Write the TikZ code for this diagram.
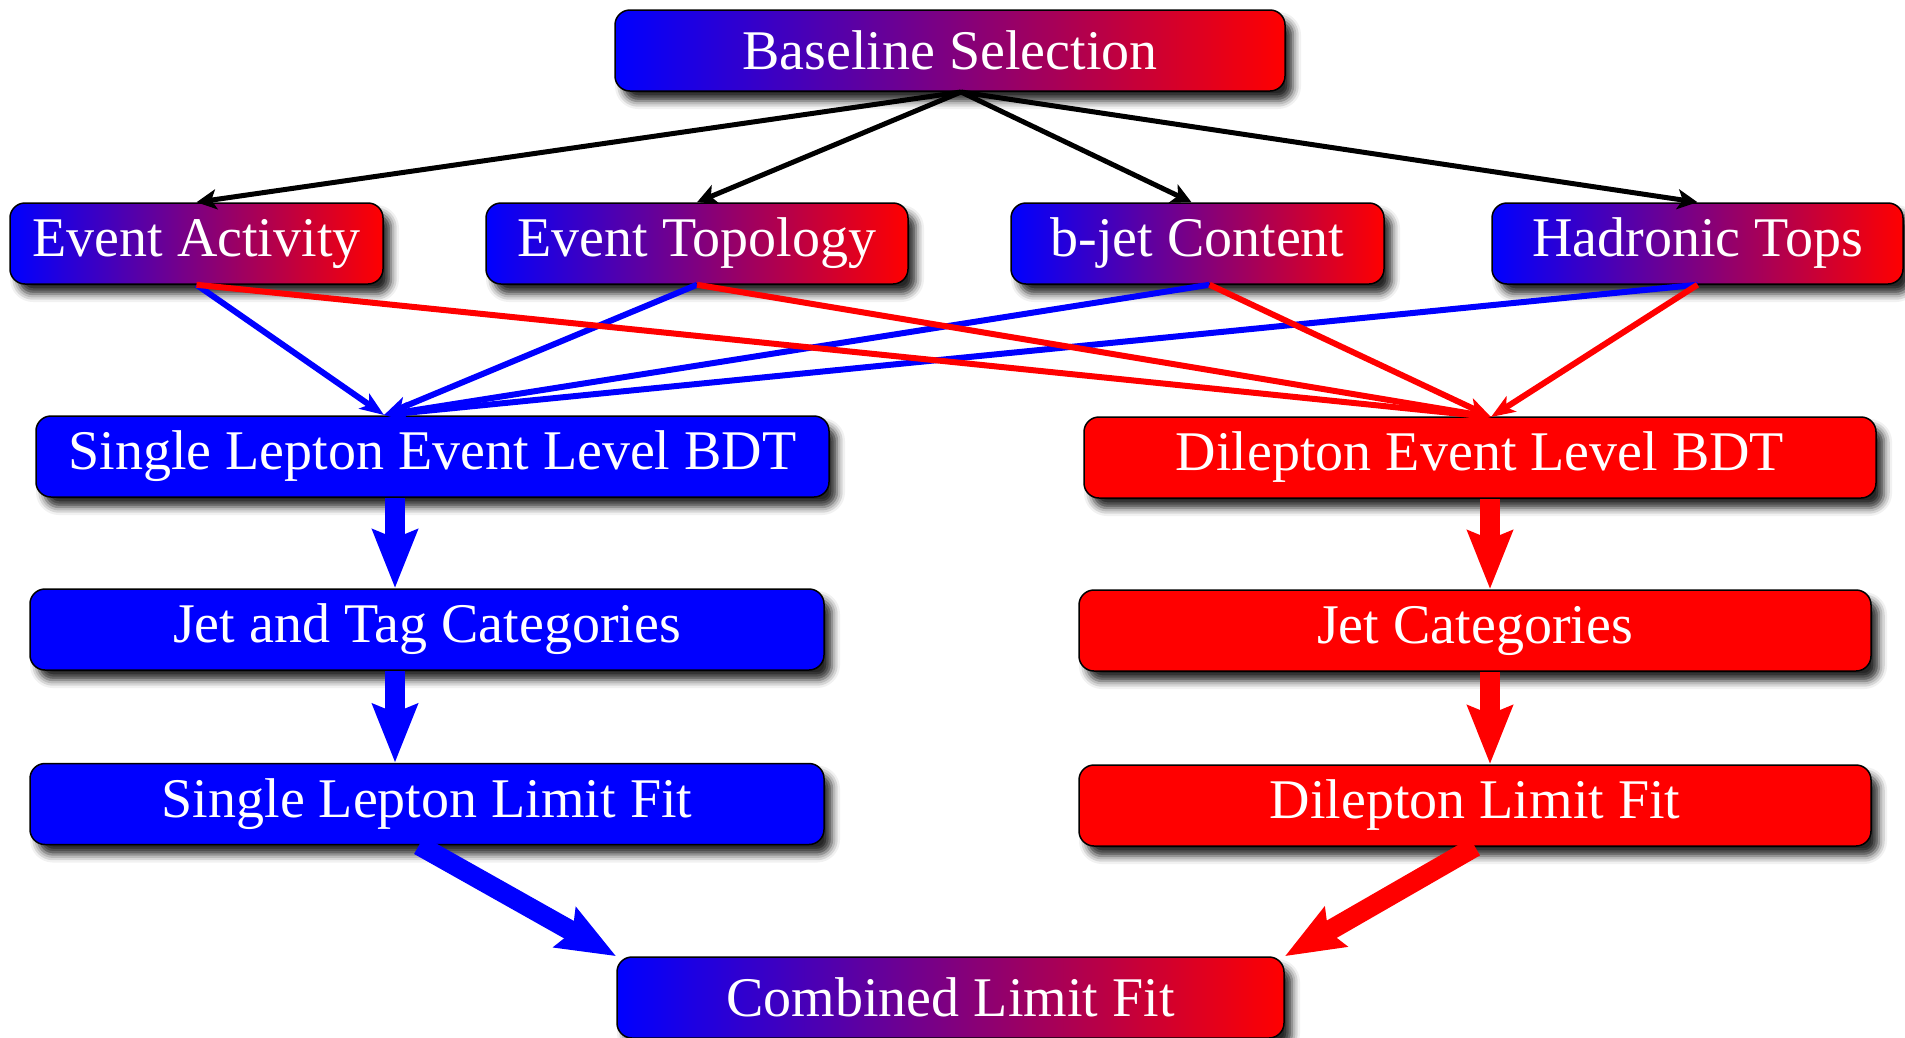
\documentclass[tikz,border=0pt]{standalone}
\usepackage{fontspec}
\setmainfont{Liberation Serif}
\usetikzlibrary{arrows.meta,shadows.blur}

\tikzset{
  stage/.style={draw=black, line width=1.5pt, rounded corners=15pt,
    minimum height=81pt, inner sep=0pt, text=white,
    font=\fontsize{56}{60}\selectfont,
    blur shadow={shadow xshift=8pt, shadow yshift=-10pt,
      shadow blur radius=8pt, shadow opacity=85}},
  mixed/.style={stage, left color=blue, right color=red},
  lep/.style={stage, fill=blue},
  dilep/.style={stage, fill=red},
  feed/.style={draw=black, line width=5pt,
    -{Stealth[length=20pt,width=20pt,inset=5pt]}},
  link/.style={line width=6pt,
    -{Stealth[length=24pt,width=18pt,inset=6pt]}},
  flow/.style={line width=20pt,
    -{Stealth[length=58pt,width=44pt,inset=8pt]}},
}

\begin{document}
\begin{tikzpicture}[x=1pt, y=-1pt]
\useasboundingbox (0,0) rectangle (1905,1037);

% inputs and common selection
\node[mixed, minimum width=670pt] (base) at (950,50.5) {Baseline Selection};
\node[mixed, minimum width=373pt] (ea) at (196.5,243.5) {Event Activity};
\node[mixed, minimum width=422pt] (et) at (697,243.5) {Event Topology};
\node[mixed, minimum width=373pt] (bj) at (1197.5,243.5) {b-jet Content};
\node[mixed, minimum width=411pt] (ht) at (1697.5,243.5) {Hadronic Tops};

% single lepton chain
\node[lep, minimum width=793pt] (sbdt) at (432.5,456.5) {Single Lepton Event Level BDT};
\node[lep, minimum width=794pt] (jtc) at (427,629.5) {Jet and Tag Categories};
\node[lep, minimum width=794pt] (slf) at (427,804) {Single Lepton Limit Fit};

% dilepton chain
\node[dilep, minimum width=792pt] (dbdt) at (1480,457.5) {Dilepton Event Level BDT};
\node[dilep, minimum width=792pt] (jc) at (1475,630.5) {Jet Categories};
\node[dilep, minimum width=792pt] (dlf) at (1475,805.5) {Dilepton Limit Fit};

% combination
\node[mixed, minimum width=667pt] (comb) at (950.5,997.5) {Combined Limit Fit};

% junctions and columns
\coordinate (top) at (961,92);
\coordinate (inL) at (384,415);
\coordinate (inR) at (1491,417);
\coordinate (colL) at (395,0);
\coordinate (colR) at (1490,0);

% selection feeds the four variable groups
\draw[feed] (top) -- (ea.north);
\draw[feed] (top) -- (et.north);
\draw[feed] (top) -- ([xshift=-6pt]bj.north);
\draw[feed] (top) -- (ht.north);

% variable groups into the single lepton BDT
\draw[link, blue] (ea.south) -- (inL);
\draw[link, blue] (et.south) -- (inL);
\draw[link, blue] ([xshift=12pt]bj.south) -- (inL);
\draw[link, blue] (ht.south) -- (inL);

% variable groups into the dilepton BDT
\draw[link, red] (ea.south) -- (inR);
\draw[link, red] (et.south) -- (inR);
\draw[link, red] ([xshift=12pt]bj.south) -- (inR);
\draw[link, red] (ht.south) -- (inR);

% vertical flow
\draw[flow, blue] (sbdt.south -| colL) -- (jtc.north -| colL);
\draw[flow, blue] (jtc.south -| colL) -- (slf.north -| colL);
\draw[flow, red] (dbdt.south -| colR) -- (jc.north -| colR);
\draw[flow, red] (jc.south -| colR) -- (dlf.north -| colR);

% into the combined fit
\draw[flow, blue] ([xshift=-8pt]slf.south) -- (comb.north west);
\draw[flow, red] (dlf.south) -- (comb.north east);
\end{tikzpicture}
\end{document}
